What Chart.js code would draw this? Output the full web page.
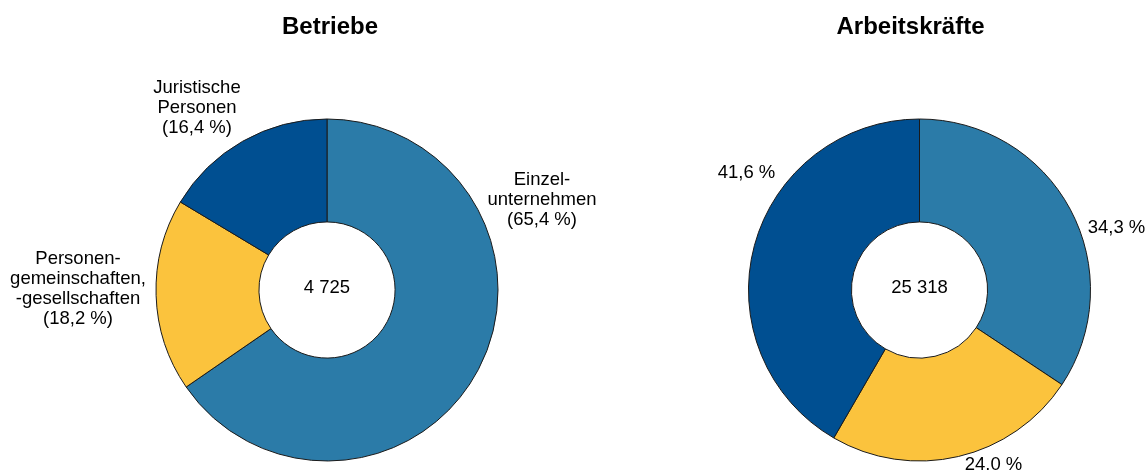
<!DOCTYPE html>
<html>
<head>
<meta charset="utf-8">
<script src="https://cdn.jsdelivr.net/npm/chart.js@4.4.0/dist/chart.umd.min.js"></script>
<style>
  html, body { margin: 0; padding: 0; background: #fff; }
  #wrap { position: relative; width: 1147px; height: 472px; overflow: hidden; }
  .box { position: absolute; top: 0; left: 0; width: 1147px; height: 472px; }
</style>
</head>
<body>
<div id="wrap">
  <div class="box"><canvas id="betriebeChart"></canvas></div>
  <div class="box"><canvas id="kraefteChart"></canvas></div>
</div>
<script>
// Daten
const categories = ['Einzelunternehmen', 'Personengemeinschaften, -gesellschaften', 'Juristische Personen'];
const betriebeShare = [65.4, 18.2, 16.4];
const kraefteShare = [34.3, 24.0, 41.6];
const betriebeTotal = '4 725';
const kraefteTotal = '25 318';
const betriebeLabels = [
    ['Einzel-', 'unternehmen', '(65,4 %)'],
    ['Personen-', 'gemeinschaften,', '-gesellschaften', '(18,2 %)'],
    ['Juristische', 'Personen', '(16,4 %)']
];
const kraefteLabels = [['34,3 %'], ['24.0 %'], ['41,6 %']];

const colors = ['#2b7ba8', '#fbc33d', '#004f91'];
const FONT = '"Liberation Sans", Arial, sans-serif';

// Textpositionen relativ zur Kreismitte
const betriebeLabelPos = [[215, -90], [-249, -1], [-130, -182]];
const kraefteLabelPos = [[197, -62], [74, 175], [-173, -117]];

const textPlugin = {
    id: 'texts',
    afterDraw(chart, args, opts) {
        const ctx = chart.ctx;
        const arc = chart.getDatasetMeta(0).data[0];
        const cx = arc.x, cy = arc.y;
        ctx.save();
        ctx.fillStyle = '#000';
        ctx.textAlign = 'center';
        ctx.textBaseline = 'middle';
        // Titel
        ctx.font = 'bold 24px ' + FONT;
        ctx.fillText(opts.title, cx + opts.titleDx, 27);
        // Summe in der Mitte
        ctx.font = '18.5px ' + FONT;
        ctx.fillText(opts.total, cx, cy - 2);
        // Beschriftungen
        const lh = 20;
        opts.labels.forEach((lines, i) => {
            const [dx, dy] = opts.pos[i];
            const y0 = cy + dy - (lines.length - 1) * lh / 2;
            lines.forEach((t, j) => ctx.fillText(t, cx + dx, y0 + j * lh));
        });
        ctx.restore();
    }
};

function makeDoughnut(id, values, padding, title, titleDx, total, labels, pos) {
    return new Chart(document.getElementById(id), {
        type: 'doughnut',
        data: {
            labels: categories,
            datasets: [{
                data: values,
                backgroundColor: colors,
                borderColor: '#1a1a1a',
                borderWidth: 1,
                radius: 171,
                cutout: '39.8%'
            }]
        },
        options: {
            responsive: true,
            maintainAspectRatio: false,
            animation: false,
            layout: { padding: padding },
            plugins: {
                legend: { display: false },
                tooltip: { enabled: false },
                texts: { title: title, titleDx: titleDx, total: total, labels: labels, pos: pos }
            }
        },
        plugins: [textPlugin]
    });
}

makeDoughnut('betriebeChart', betriebeShare,
    { left: 100, right: 593, top: 110, bottom: 2 },
    'Betriebe', 3, betriebeTotal, betriebeLabels, betriebeLabelPos);

makeDoughnut('kraefteChart', kraefteShare,
    { left: 730, right: 38, top: 110, bottom: 2 },
    'Arbeitskräfte', -9, kraefteTotal, kraefteLabels, kraefteLabelPos);
</script>
</body>
</html>
